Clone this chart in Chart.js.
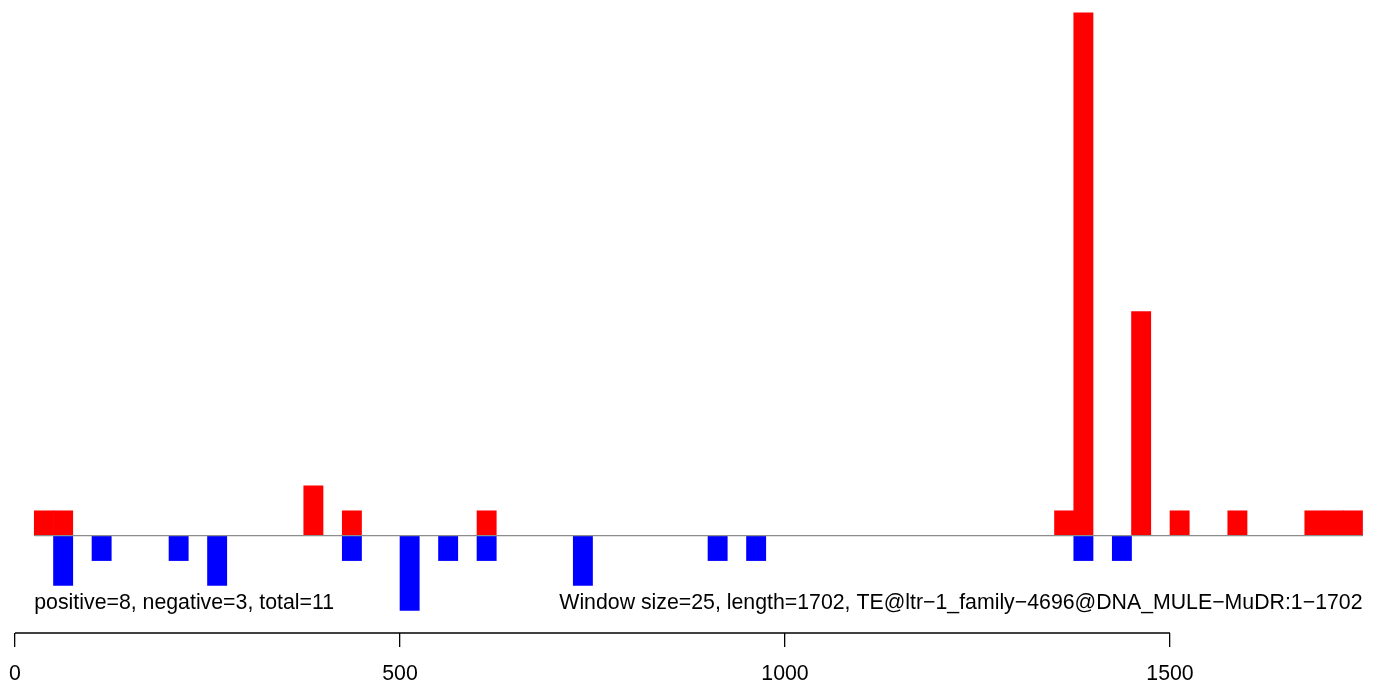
<!DOCTYPE html>
<html>
<head>
<meta charset="utf-8">
<script src="https://cdn.jsdelivr.net/npm/chart.js@4/dist/chart.umd.min.js"></script>
<style>
  html, body { margin: 0; padding: 0; background: #fff; }
  canvas { display: block; }
</style>
</head>
<body>
<canvas id="te_chart" width="1375" height="685"></canvas>
<script>
"use strict";

const windowSize = 25;

// windows (start position) with positive-strand hits, and their counts
const posStarts = [25, 50, 375, 425, 600, 1350, 1375, 1450, 1500, 1575, 1675, 1700, 1725];
const posCounts = [1, 1, 2, 1, 1, 1, 21, 9, 1, 1, 1, 1, 1];

// windows with negative-strand hits, drawn below the line
const negStarts = [50, 100, 200, 250, 425, 500, 550, 600, 725, 900, 950, 1375, 1425];
const negCounts = [2, 1, 1, 2, 1, 3, 1, 1, 2, 1, 1, 1, 1];

const xTicks = [0, 500, 1000, 1500];
const lineRange = [25, 1750];

const statsLabel = "positive=8, negative=3, total=11";
const infoLabel = "Window size=25, length=1702, TE@ltr\u22121_family\u22124696@DNA_MULE\u2212MuDR:1\u22121702";

const FONT = "'Liberation Sans', Arial, Helvetica, sans-serif";

const posData = posStarts.map((s, i) => ({ x: s + windowSize / 2, y: posCounts[i] }));
const negData = negStarts.map((s, i) => ({ x: s + windowSize / 2, y: -negCounts[i] }));

// R-style axis line that only spans the first to last tick
const axisLinePlugin = {
  id: "axisLine",
  afterDraw(chart) {
    const c = chart.ctx;
    const xs = chart.scales.x;
    const ys = chart.scales.y;
    const y = chart.chartArea.bottom;
    c.save();
    c.strokeStyle = "#000";
    c.lineWidth = 1.3;
    c.beginPath();
    c.moveTo(xs.getPixelForValue(xTicks[0]), y);
    c.lineTo(xs.getPixelForValue(xTicks[xTicks.length - 1]), y);
    c.stroke();

    c.fillStyle = "#000";
    c.font = "21.3px " + FONT;
    c.textBaseline = "middle";
    c.textAlign = "left";
    c.fillText(statsLabel, xs.getPixelForValue(lineRange[0]), ys.getPixelForValue(-2.7));
    c.textAlign = "right";
    c.fillText(infoLabel, xs.getPixelForValue(lineRange[1]), ys.getPixelForValue(-2.7));
    c.restore();
  }
};

var ctx1 = document.getElementById("te_chart").getContext("2d");
var teChart = new Chart(ctx1, {
  type: "bar",
  data: {
    datasets: [
      {
        type: "line",
        data: lineRange.map(v => ({ x: v, y: 0 })),
        borderColor: "#8c8c8c",
        borderWidth: 1.3,
        pointRadius: 0,
        order: 0
      },
      {
        label: "positive",
        data: posData,
        backgroundColor: "#ff0000",
        borderWidth: 0,
        grouped: false,
        categoryPercentage: 1,
        barPercentage: 1,
        order: 1
      },
      {
        label: "negative",
        data: negData,
        backgroundColor: "#0000ff",
        borderWidth: 0,
        grouped: false,
        categoryPercentage: 1,
        barPercentage: 1,
        order: 1
      }
    ]
  },
  options: {
    responsive: false,
    devicePixelRatio: 1,
    animation: false,
    layout: { padding: 0 },
    plugins: {
      legend: { display: false },
      tooltip: { enabled: false }
    },
    scales: {
      x: {
        type: "linear",
        min: -19.5,
        max: 1766.2,
        offset: false,
        border: { display: false },
        grid: {
          offset: false,
          drawOnChartArea: false,
          drawTicks: true,
          tickLength: 14,
          color: "#000",
          lineWidth: 1.3
        },
        ticks: {
          color: "#000",
          padding: 14,
          maxRotation: 0,
          autoSkip: false,
          font: { family: FONT, size: 21.3 },
          callback: v => String(v)
        },
        afterBuildTicks: scale => {
          scale.ticks = xTicks.map(v => ({ value: v }));
        },
        afterFit: scale => {
          scale.height = 52;
          scale.paddingLeft = 0;
          scale.paddingRight = 0;
        }
      },
      y: {
        display: false,
        min: -3.909,
        max: 21.52
      }
    }
  },
  plugins: [axisLinePlugin]
});
</script>
</body>
</html>
